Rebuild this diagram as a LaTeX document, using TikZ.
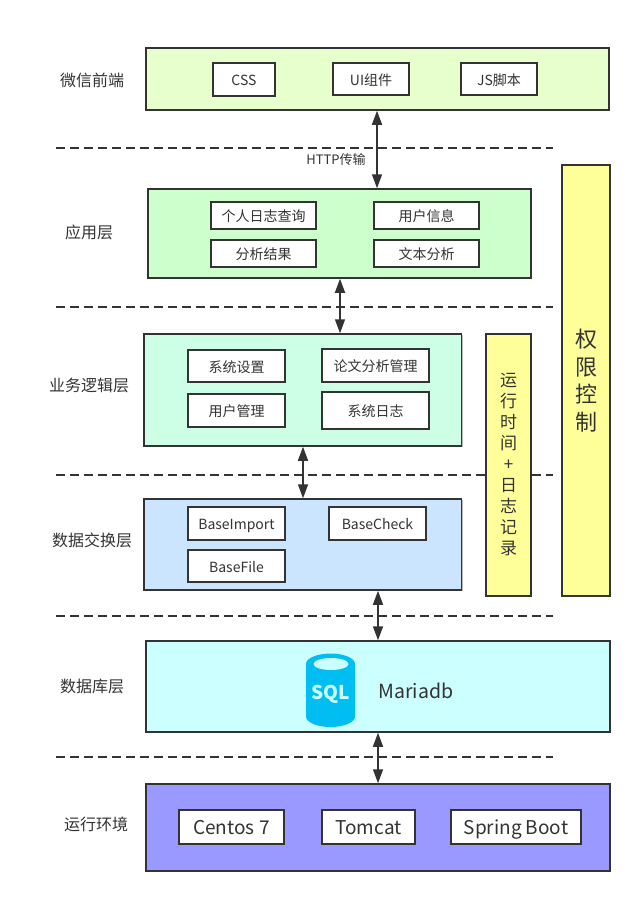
\documentclass[tikz,border=0pt]{standalone}
\usepackage{fontspec}
\setmainfont{Noto Sans CJK SC}
\usetikzlibrary{arrows.meta, shadows}
\definecolor{mainBlack}{HTML}{333333}
\definecolor{frontGreen}{HTML}{E6FFCC}
\definecolor{appGreen}{HTML}{CCFFCC}
\definecolor{logicGreen}{HTML}{CCFFE6}
\definecolor{dataBlue}{HTML}{CCE5FF}
\definecolor{dbCyan}{HTML}{CCFFFF}
\definecolor{envBlue}{HTML}{9999FF}
\definecolor{sideYellow}{HTML}{FFFF99}
\definecolor{sqlBlue}{HTML}{00BEF2}
\tikzset{
    layerBox/.style={draw=mainBlack, line width=1.5pt, inner sep=0pt, drop shadow={shadow xshift=1pt, shadow yshift=-1pt, fill=black!45, opacity=0.6}},
    itemBox/.style={layerBox, fill=white, text=mainBlack, font=\fontsize{14}{16}\selectfont, text height=14pt, text depth=2pt},
    bigItem/.style={layerBox, fill=white, text=mainBlack, font=\fontsize{19}{21}\selectfont, text height=17pt, text depth=3pt},
    layerName/.style={text=mainBlack, font=\fontsize{16}{18}\selectfont},
    sideBox/.style={draw=mainBlack, line width=1.5pt, fill=sideYellow, text=mainBlack, inner sep=0pt, align=center},
    sepLine/.style={dashed, dash pattern=on 9pt off 5pt, line width=1.5pt, draw=mainBlack},
    linkArrow/.style={{Triangle[length=14pt,width=10pt]}-{Triangle[length=14pt,width=10pt]}, line width=1.5pt, draw=mainBlack},
}

\begin{document}
\begin{tikzpicture}[x=1pt, y=-1pt]
    \useasboundingbox (0,0) rectangle (642,902);

    % separators
    \foreach \name/\ypos in {a/148, b/307, c/475, d/616, e/757} {
        \coordinate (sep\name L) at (56,\ypos);
        \coordinate (sep\name R) at (553,\ypos);
        \draw[sepLine] (sep\name L) -- (sep\name R);
    }

    % layers
    \node[layerBox, fill=frontGreen, minimum width=463pt, minimum height=62pt] (front) at (377.5,79) {};
    \node[layerBox, fill=appGreen, minimum width=383pt, minimum height=89pt] (app) at (339.5,233.5) {};
    \node[layerBox, fill=logicGreen, minimum width=317.5pt, minimum height=112pt] (logic) at (302.75,390) {};
    \node[layerBox, fill=dataBlue, minimum width=317.5pt, minimum height=91pt] (data) at (302.75,544.5) {};
    \node[layerBox, fill=dbCyan, minimum width=464pt, minimum height=91pt] (db) at (378,686.5) {};
    \node[layerBox, fill=envBlue, minimum width=464pt, minimum height=87pt] (env) at (378,827.5) {};

    % side bars
    \node[sideBox, minimum width=45pt, minimum height=262pt, font=\fontsize{17}{21}\selectfont] (runlog) at (508.5,465)
        {运\\行\\时\\间\\+\\日\\志\\记\\录};
    \node[sideBox, minimum width=48pt, minimum height=431pt, font=\fontsize{22}{27.5}\selectfont] (perm) at (586,380.5)
        {权\\限\\控\\制};

    % layer names
    \node[layerName] (nameFront) at (92,80) {微信前端};
    \node[layerName] (nameApp) at (89,232) {应用层};
    \node[layerName] (nameLogic) at (89,385) {业务逻辑层};
    \node[layerName] (nameData) at (92,540) {数据交换层};
    \node[layerName] (nameDb) at (92,686) {数据库层};
    \node[layerName] (nameEnv) at (96,824) {运行环境};

    % front items
    \node[itemBox, minimum width=62pt, minimum height=33pt] (css) at (244,79.5) {CSS};
    \node[itemBox, minimum width=76pt, minimum height=32pt] (ui) at (371,79) {UI组件};
    \node[itemBox, minimum width=76pt, minimum height=32pt] (js) at (499,79) {JS脚本};

    % app items
    \node[itemBox, minimum width=105pt, minimum height=27pt] (query) at (263.5,215.5) {个人日志查询};
    \node[itemBox, minimum width=105pt, minimum height=27pt] (userinfo) at (426.5,215.5) {用户信息};
    \node[itemBox, minimum width=105pt, minimum height=27pt] (result) at (263.5,253.5) {分析结果};
    \node[itemBox, minimum width=105pt, minimum height=27pt] (textana) at (426.5,253.5) {文本分析};

    % logic items
    \node[itemBox, minimum width=97pt, minimum height=32pt] (setting) at (236.5,366) {系统设置};
    \node[itemBox, minimum width=107pt, minimum height=33pt] (paper) at (375.5,365.5) {论文分析管理};
    \node[itemBox, minimum width=97pt, minimum height=33pt] (usermgr) at (236.5,410.5) {用户管理};
    \node[itemBox, minimum width=107pt, minimum height=37pt] (syslog) at (375.5,410.5) {系统日志};

    % data items
    \node[itemBox, minimum width=97pt, minimum height=33pt] (import) at (236.5,523.5) {BaseImport};
    \node[itemBox, minimum width=97pt, minimum height=33pt] (check) at (377.5,523.5) {BaseCheck};
    \node[itemBox, minimum width=97pt, minimum height=32pt] (file) at (236.5,566) {BaseFile};

    % database
    \fill[sqlBlue] (306,664) arc[start angle=180, end angle=360, x radius=24.5, y radius=10.5]
        -- (355,716.5) arc[start angle=0, end angle=180, x radius=24.5, y radius=10.5] -- cycle;
    \fill[dbCyan] (331,664) ellipse[x radius=17.5, y radius=6];
    \node[text=dbCyan, font=\fontsize{19}{20}\selectfont\bfseries] (sql) at (331,694) {SQL};
    \node[text=mainBlack, font=\fontsize{19.5}{21}\selectfont] (maria) at (416,691) {Mariadb};

    % env items
    \node[bigItem, minimum width=105pt, minimum height=34pt] (centos) at (231.5,827) {Centos 7};
    \node[bigItem, minimum width=93pt, minimum height=34pt] (tomcat) at (368.5,827) {Tomcat};
    \node[bigItem, minimum width=130pt, minimum height=34pt] (spring) at (516,827) {Spring Boot};

    % links
    \coordinate (linkA) at (377,0);
    \coordinate (linkB) at (340,0);
    \coordinate (linkC) at (303,0);
    \coordinate (linkD) at (378,0);
    \draw[linkArrow] (front.south -| linkA) -- (app.north -| linkA);
    \draw[linkArrow] (app.south -| linkB) -- (logic.north -| linkB);
    \draw[linkArrow] (logic.south -| linkC) -- (data.north -| linkC);
    \draw[linkArrow] (data.south -| linkD) -- (db.north -| linkD);
    \draw[linkArrow] (db.south -| linkD) -- (env.north -| linkD);

    \node[text=mainBlack, font=\fontsize{13}{15}\selectfont] (http) at (336,160) {HTTP传输};
\end{tikzpicture}
\end{document}
